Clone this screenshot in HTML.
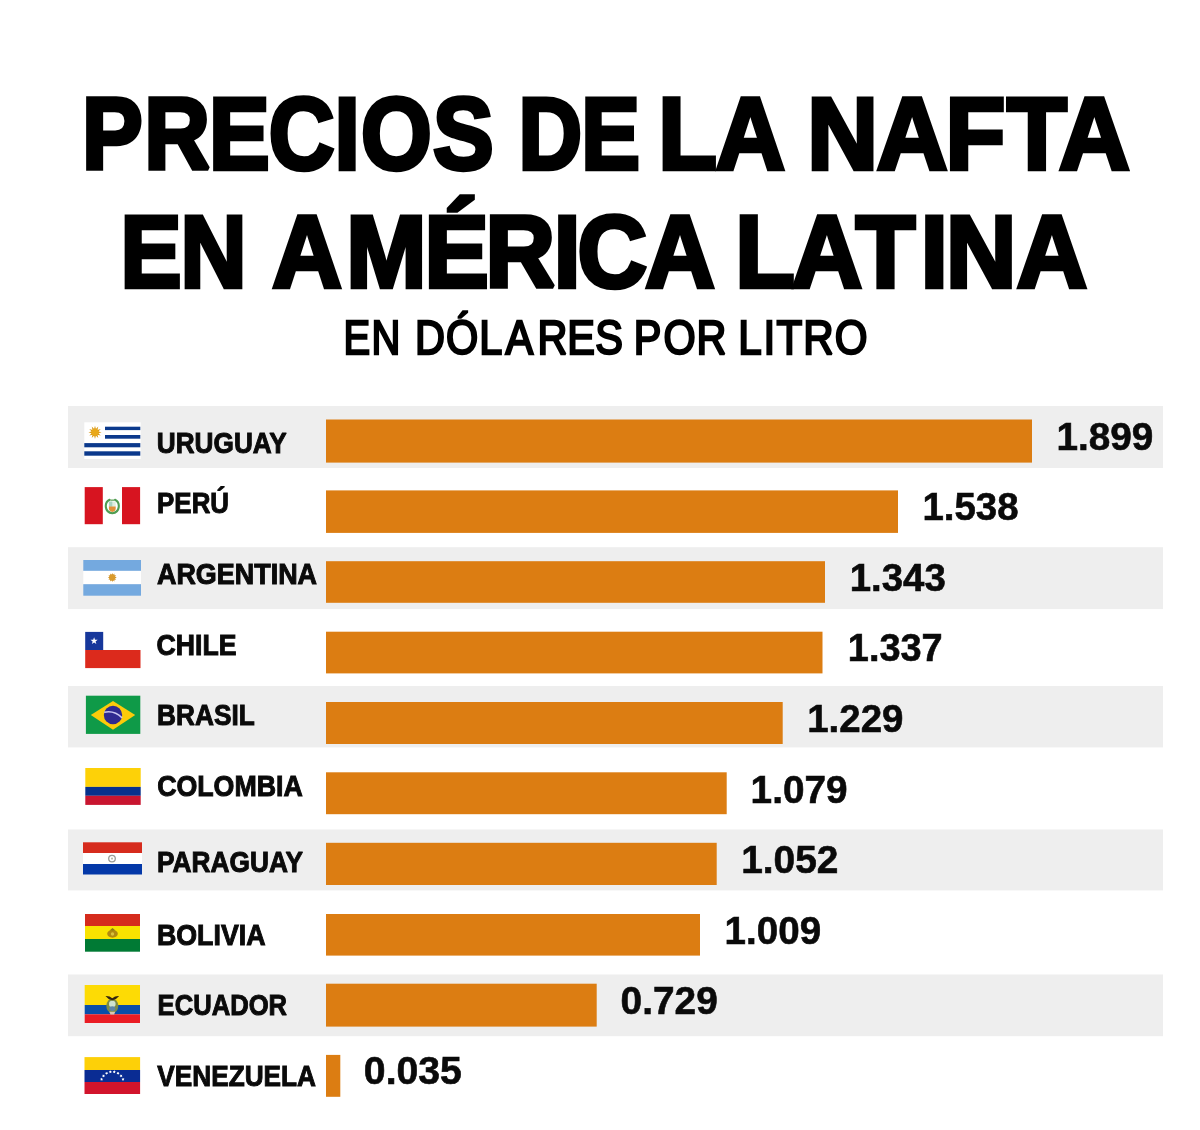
<!DOCTYPE html>
<html lang="es"><head><meta charset="utf-8"><title>Precios de la nafta en América Latina</title>
<style>
html,body{margin:0;padding:0;background:#fff}
body{width:1200px;height:1130px;overflow:hidden;font-family:"Liberation Sans",sans-serif}
svg{display:block}
text{font-family:"Liberation Sans",sans-serif}
.t{stroke-linejoin:miter;stroke-miterlimit:2}
</style></head><body>
<svg width="1200" height="1130" viewBox="0 0 1200 1130">
<rect width="1200" height="1130" fill="#fff"/>
<rect x="68" y="406.0" width="1095" height="62.0" fill="#eeeeee"/>
<rect x="68" y="547.2" width="1095" height="61.9" fill="#eeeeee"/>
<rect x="68" y="686.0" width="1095" height="61.4" fill="#eeeeee"/>
<rect x="68" y="829.5" width="1095" height="60.9" fill="#eeeeee"/>
<rect x="68" y="974.5" width="1095" height="61.7" fill="#eeeeee"/>
<rect x="326" y="419.5" width="706.0" height="43.1" fill="#dc7d12"/>
<rect x="326" y="490.4" width="572.0" height="42.5" fill="#dc7d12"/>
<rect x="326" y="561.2" width="499.0" height="41.6" fill="#dc7d12"/>
<rect x="326" y="631.7" width="496.5" height="41.7" fill="#dc7d12"/>
<rect x="326" y="702.0" width="456.7" height="42.0" fill="#dc7d12"/>
<rect x="326" y="772.3" width="400.7" height="41.9" fill="#dc7d12"/>
<rect x="326" y="842.8" width="390.7" height="42.2" fill="#dc7d12"/>
<rect x="326" y="914.0" width="374.0" height="41.6" fill="#dc7d12"/>
<rect x="326" y="983.7" width="270.7" height="42.9" fill="#dc7d12"/>
<rect x="326" y="1054.9" width="14.3" height="41.9" fill="#dc7d12"/>
<defs><filter id="soft" x="-5%" y="-5%" width="110%" height="110%" color-interpolation-filters="sRGB"><feGaussianBlur stdDeviation="0.35"/></filter></defs>
<g id="flags" filter="url(#soft)">
<rect x="84.3" y="422.3" width="56.4" height="36.7" fill="#fff"/>
<rect x="105.0" y="426.7" width="35.3" height="3.4" fill="#0b398c"/>
<rect x="105.0" y="435.0" width="35.3" height="3.7" fill="#0b398c"/>
<rect x="84.3" y="443.1" width="56.0" height="4.2" fill="#0b398c"/>
<rect x="84.3" y="451.3" width="56.0" height="4.4" fill="#0b398c"/>
<polygon points="101.60,432.30 98.30,433.19 100.72,435.60 97.42,434.72 98.30,438.02 95.89,435.60 95.00,438.90 94.11,435.60 91.70,438.02 92.58,434.72 89.28,435.60 91.70,433.19 88.40,432.30 91.70,431.41 89.28,429.00 92.58,429.88 91.70,426.58 94.11,429.00 95.00,425.70 95.89,429.00 98.30,426.58 97.42,429.88 100.72,429.00 98.30,431.41" fill="#d8960f"/>
<circle cx="95.00" cy="432.30" r="3.60" fill="#e9a818"/>
<rect x="84.7" y="487.1" width="18.1" height="37.1" fill="#d71420"/>
<rect x="122.0" y="487.1" width="18.1" height="37.1" fill="#d71420"/>
<path d="M109.6 499.800C104 502.500 104.400 512.500 112.3 513.200C120.200 512.500 120.600 502.500 115 499.800" fill="none" stroke="#4f9d52" stroke-width="2.1" stroke-linecap="round"/>
<path d="M108.900 501.500h6.800v5.200h-6.800z" fill="#dfeee0"/>
<path d="M108.900 501.500h3.400v5.200h-3.400z" fill="#a9d3c0"/>
<path d="M108.900 506.400h6.800v2.200q0 2.700-3.400 3.500q-3.400-.8-3.400-3.500z" fill="#e2913a"/>
<path d="M110.300 499.400h4v1.600h-4z" fill="#7fb57a"/>
<rect x="83.3" y="560.0" width="57.7" height="10.9" fill="#74a9df"/>
<rect x="83.3" y="570.9" width="57.7" height="13.3" fill="#fff"/>
<rect x="83.3" y="584.2" width="57.7" height="11.5" fill="#74a9df"/>
<polygon points="116.80,577.50 114.96,578.21 116.20,579.75 114.25,579.45 114.55,581.40 113.01,580.16 112.30,582.00 111.59,580.16 110.05,581.40 110.35,579.45 108.40,579.75 109.64,578.21 107.80,577.50 109.64,576.79 108.40,575.25 110.35,575.55 110.05,573.60 111.59,574.84 112.30,573.00 113.01,574.84 114.55,573.60 114.25,575.55 116.20,575.25 114.96,576.79" fill="#cf8f22"/>
<circle cx="112.30" cy="577.50" r="2.90" fill="#d99a2b"/>
<rect x="85.2" y="631.9" width="18.0" height="18.1" fill="#17379b"/>
<rect x="85.2" y="650.0" width="55.3" height="18.1" fill="#dc2a1c"/>
<polygon points="94.10,637.20 94.99,639.77 97.71,639.83 95.55,641.47 96.33,644.07 94.10,642.52 91.87,644.07 92.65,641.47 90.49,639.83 93.21,639.77" fill="#fff"/>
<rect x="85.9" y="695.7" width="54.4" height="38.2" fill="#0f9a48"/>
<polygon points="90.8,715.1 113,700.9 135.2,715.1 113,729.8" fill="#fccb0a"/>
<circle cx="113" cy="715" r="9.2" fill="#2f2a90"/>
<path d="M104.200 712.300q10-2.300 17.900 5.600" stroke="#c9c6f0" stroke-width="1.6" fill="none"/>
<rect x="85.3" y="768.0" width="55.4" height="18.9" fill="#fdd108"/>
<rect x="85.3" y="786.9" width="55.4" height="8.9" fill="#06318c"/>
<rect x="85.3" y="795.8" width="55.4" height="9.1" fill="#c8152f"/>
<rect x="83.0" y="842.3" width="59.0" height="10.7" fill="#d62b1d"/>
<rect x="83.0" y="853.0" width="59.0" height="11.0" fill="#fff"/>
<rect x="83.0" y="864.0" width="59.0" height="10.5" fill="#0338a8"/>
<circle cx="112" cy="858.6" r="3.3" fill="#fff" stroke="#9a9a96" stroke-width="1.3"/>
<circle cx="112" cy="858.6" r="1.1" fill="#b9b9a8"/>
<rect x="85.0" y="914.0" width="55.0" height="12.0" fill="#d52b1d"/>
<rect x="85.0" y="926.0" width="55.0" height="13.0" fill="#f9e300"/>
<rect x="85.0" y="939.0" width="55.0" height="12.7" fill="#007a34"/>
<ellipse cx="112.5" cy="933.8" rx="5.300" ry="3.9" fill="#b18a10"/>
<path d="M109.5 930.5l3-2.600 3 2.600z" fill="#8a7a14"/>
<circle cx="112.5" cy="934" r="1.7" fill="#d9c23a"/>
<rect x="84.7" y="985.0" width="55.3" height="20.0" fill="#fddb05"/>
<rect x="84.7" y="1005.0" width="55.3" height="9.3" fill="#0a4ea8"/>
<rect x="84.7" y="1014.3" width="55.3" height="8.7" fill="#ea1c24"/>
<ellipse cx="112.3" cy="1005.800" rx="6" ry="7.300" fill="#7d8c45"/>
<ellipse cx="112.3" cy="1004" rx="3.300" ry="3.200" fill="#cfe3cf"/>
<ellipse cx="112.3" cy="1008.600" rx="3.100" ry="2.300" fill="#5f86a6"/>
<path d="M105.500 996q4 -.3 6.800 2.300q2.800-2.600 6.800-2.300q-2.300 3.400-6.800 4.200q-4.500-.8-6.800-4.200z" fill="#33240f"/>
<path d="M109.300 1011.800h6l-1.200 2.600h-3.600z" fill="#d8c9b0"/>
<rect x="84.5" y="1057.1" width="55.6" height="12.9" fill="#fdd008"/>
<rect x="84.5" y="1070.0" width="55.6" height="12.0" fill="#0a2c93"/>
<rect x="84.5" y="1082.0" width="55.6" height="12.0" fill="#d2142c"/>
<polygon points="100.15,1078.82 101.13,1078.62 101.64,1077.77 102.13,1078.64 103.10,1078.87 102.42,1079.60 102.50,1080.59 101.60,1080.17 100.68,1080.56 100.80,1079.57" fill="#fff"/>
<polygon points="102.35,1074.86 103.34,1075.02 104.12,1074.40 104.27,1075.38 105.10,1075.93 104.21,1076.38 103.95,1077.34 103.24,1076.64 102.25,1076.68 102.70,1075.80" fill="#fff"/>
<polygon points="105.79,1071.92 106.66,1072.41 107.61,1072.10 107.41,1073.07 108.00,1073.88 107.01,1073.99 106.43,1074.80 106.01,1073.89 105.06,1073.59 105.80,1072.92" fill="#fff"/>
<polygon points="110.04,1070.35 110.68,1071.11 111.68,1071.15 111.15,1071.99 111.43,1072.95 110.46,1072.72 109.63,1073.27 109.56,1072.28 108.77,1071.66 109.70,1071.29" fill="#fff"/>
<polygon points="114.56,1070.35 114.90,1071.29 115.83,1071.66 115.04,1072.28 114.97,1073.27 114.14,1072.72 113.17,1072.95 113.45,1071.99 112.92,1071.15 113.92,1071.11" fill="#fff"/>
<polygon points="118.81,1071.92 118.80,1072.92 119.54,1073.59 118.59,1073.89 118.17,1074.80 117.59,1073.99 116.60,1073.88 117.19,1073.07 116.99,1072.10 117.94,1072.41" fill="#fff"/>
<polygon points="122.25,1074.86 121.90,1075.80 122.35,1076.68 121.36,1076.64 120.65,1077.34 120.39,1076.38 119.50,1075.93 120.33,1075.38 120.48,1074.40 121.26,1075.02" fill="#fff"/>
<polygon points="124.45,1078.82 123.80,1079.57 123.92,1080.56 123.00,1080.17 122.10,1080.59 122.18,1079.60 121.50,1078.87 122.47,1078.64 122.96,1077.77 123.47,1078.62" fill="#fff"/>
</g>
<text class="t" transform="scale(0.8914,1)" x="92.07 161.87 234.38 301.45 375.26 404.93 485.80" y="169.10" font-size="102.00" font-weight="700" fill="#000" stroke="#000" stroke-width="4.40">PRECIOS</text>
<text class="t" transform="scale(0.8625,1)" x="601.14 673.95" y="169.10" font-size="102.00" font-weight="700" fill="#000" stroke="#000" stroke-width="4.40">DE</text>
<text class="t" transform="scale(0.9403,1)" x="700.15 761.13" y="169.10" font-size="102.00" font-weight="700" fill="#000" stroke="#000" stroke-width="4.40">LA</text>
<text class="t" transform="scale(0.9600,1)" x="840.81 913.36 985.03 1048.93 1103.23" y="169.10" font-size="102.00" font-weight="700" fill="#000" stroke="#000" stroke-width="4.40">NAFTA</text>
<text class="t" transform="scale(0.8965,1)" x="134.52 201.33" y="287.30" font-size="102.00" font-weight="700" fill="#000" stroke="#000" stroke-width="4.40">EN</text>
<text class="t" transform="scale(0.9443,1)" x="288.23 366.56 449.43 514.23 586.55 611.45 683.37" y="287.30" font-size="102.00" font-weight="700" fill="#000" stroke="#000" stroke-width="4.40">AMÉRICA</text>
<text class="t" transform="scale(0.9545,1)" x="770.42 829.52 896.64 964.72 991.20 1065.24" y="287.30" font-size="102.00" font-weight="700" fill="#000" stroke="#000" stroke-width="4.40">LATINA</text>
<text class="t" transform="scale(0.8341,1)" x="411.70 445.32" y="354.40" font-size="47.90" font-weight="400" fill="#000" stroke="#000" stroke-width="2.30">EN</text>
<text class="t" transform="scale(0.8663,1)" x="479.16 514.96 553.31 583.57 620.55 654.75 687.07" y="354.40" font-size="47.90" font-weight="400" fill="#000" stroke="#000" stroke-width="2.30">DÓLARES</text>
<text class="t" transform="scale(0.8644,1)" x="733.16 767.61 805.67" y="354.40" font-size="47.90" font-weight="400" fill="#000" stroke="#000" stroke-width="2.30">POR</text>
<text class="t" transform="scale(0.8813,1)" x="837.76 866.30 881.00 911.47 947.28" y="354.40" font-size="47.90" font-weight="400" fill="#000" stroke="#000" stroke-width="2.30">LITRO</text>
<text id="l0" x="156.79" y="453.25" font-size="29.50" font-weight="700" fill="#0a0a0a" textLength="130.01" lengthAdjust="spacingAndGlyphs" class="t" stroke="#0a0a0a" stroke-width="1.00">URUGUAY</text>
<text id="l1" x="157.07" y="512.95" font-size="29.50" font-weight="700" fill="#0a0a0a" textLength="72.00" lengthAdjust="spacingAndGlyphs" class="t" stroke="#0a0a0a" stroke-width="1.00">PERÚ</text>
<text id="l2" x="156.98" y="583.95" font-size="29.50" font-weight="700" fill="#0a0a0a" textLength="160.10" lengthAdjust="spacingAndGlyphs" class="t" stroke="#0a0a0a" stroke-width="1.00">ARGENTINA</text>
<text id="l3" x="156.62" y="654.55" font-size="29.50" font-weight="700" fill="#0a0a0a" textLength="79.89" lengthAdjust="spacingAndGlyphs" class="t" stroke="#0a0a0a" stroke-width="1.00">CHILE</text>
<text id="l4" x="157.11" y="724.75" font-size="29.50" font-weight="700" fill="#0a0a0a" textLength="97.63" lengthAdjust="spacingAndGlyphs" class="t" stroke="#0a0a0a" stroke-width="1.00">BRASIL</text>
<text id="l5" x="157.13" y="795.75" font-size="29.50" font-weight="700" fill="#0a0a0a" textLength="145.68" lengthAdjust="spacingAndGlyphs" class="t" stroke="#0a0a0a" stroke-width="1.00">COLOMBIA</text>
<text id="l6" x="157.04" y="871.55" font-size="29.50" font-weight="700" fill="#0a0a0a" textLength="146.04" lengthAdjust="spacingAndGlyphs" class="t" stroke="#0a0a0a" stroke-width="1.00">PARAGUAY</text>
<text id="l7" x="156.93" y="944.85" font-size="29.50" font-weight="700" fill="#0a0a0a" textLength="108.68" lengthAdjust="spacingAndGlyphs" class="t" stroke="#0a0a0a" stroke-width="1.00">BOLIVIA</text>
<text id="l8" x="157.61" y="1015.45" font-size="29.50" font-weight="700" fill="#0a0a0a" textLength="129.51" lengthAdjust="spacingAndGlyphs" class="t" stroke="#0a0a0a" stroke-width="1.00">ECUADOR</text>
<text id="l9" x="157.35" y="1085.55" font-size="29.50" font-weight="700" fill="#0a0a0a" textLength="158.66" lengthAdjust="spacingAndGlyphs" class="t" stroke="#0a0a0a" stroke-width="1.00">VENEZUELA</text>
<text id="v0" x="1056.47" y="449.55" font-size="39.00" font-weight="700" fill="#0a0a0a" textLength="96.96" lengthAdjust="spacingAndGlyphs" class="t" stroke="#0a0a0a" stroke-width="0.60">1.899</text>
<text id="v1" x="922.40" y="520.10" font-size="39.00" font-weight="700" fill="#0a0a0a" textLength="96.14" lengthAdjust="spacingAndGlyphs" class="t" stroke="#0a0a0a" stroke-width="0.60">1.538</text>
<text id="v2" x="849.69" y="590.85" font-size="39.00" font-weight="700" fill="#0a0a0a" textLength="96.13" lengthAdjust="spacingAndGlyphs" class="t" stroke="#0a0a0a" stroke-width="0.60">1.343</text>
<text id="v3" x="847.83" y="661.35" font-size="39.00" font-weight="700" fill="#0a0a0a" textLength="94.80" lengthAdjust="spacingAndGlyphs" class="t" stroke="#0a0a0a" stroke-width="0.60">1.337</text>
<text id="v4" x="807.21" y="732.05" font-size="39.00" font-weight="700" fill="#0a0a0a" textLength="96.30" lengthAdjust="spacingAndGlyphs" class="t" stroke="#0a0a0a" stroke-width="0.60">1.229</text>
<text id="v5" x="750.60" y="802.65" font-size="39.00" font-weight="700" fill="#0a0a0a" textLength="96.94" lengthAdjust="spacingAndGlyphs" class="t" stroke="#0a0a0a" stroke-width="0.60">1.079</text>
<text id="v6" x="741.19" y="872.65" font-size="39.00" font-weight="700" fill="#0a0a0a" textLength="97.29" lengthAdjust="spacingAndGlyphs" class="t" stroke="#0a0a0a" stroke-width="0.60">1.052</text>
<text id="v7" x="724.61" y="943.65" font-size="39.00" font-weight="700" fill="#0a0a0a" textLength="96.48" lengthAdjust="spacingAndGlyphs" class="t" stroke="#0a0a0a" stroke-width="0.60">1.009</text>
<text id="v8" x="620.59" y="1014.35" font-size="39.00" font-weight="700" fill="#0a0a0a" textLength="97.18" lengthAdjust="spacingAndGlyphs" class="t" stroke="#0a0a0a" stroke-width="0.60">0.729</text>
<text id="v9" x="363.86" y="1083.65" font-size="39.00" font-weight="700" fill="#0a0a0a" textLength="98.06" lengthAdjust="spacingAndGlyphs" class="t" stroke="#0a0a0a" stroke-width="0.60">0.035</text>
</svg></body></html>
